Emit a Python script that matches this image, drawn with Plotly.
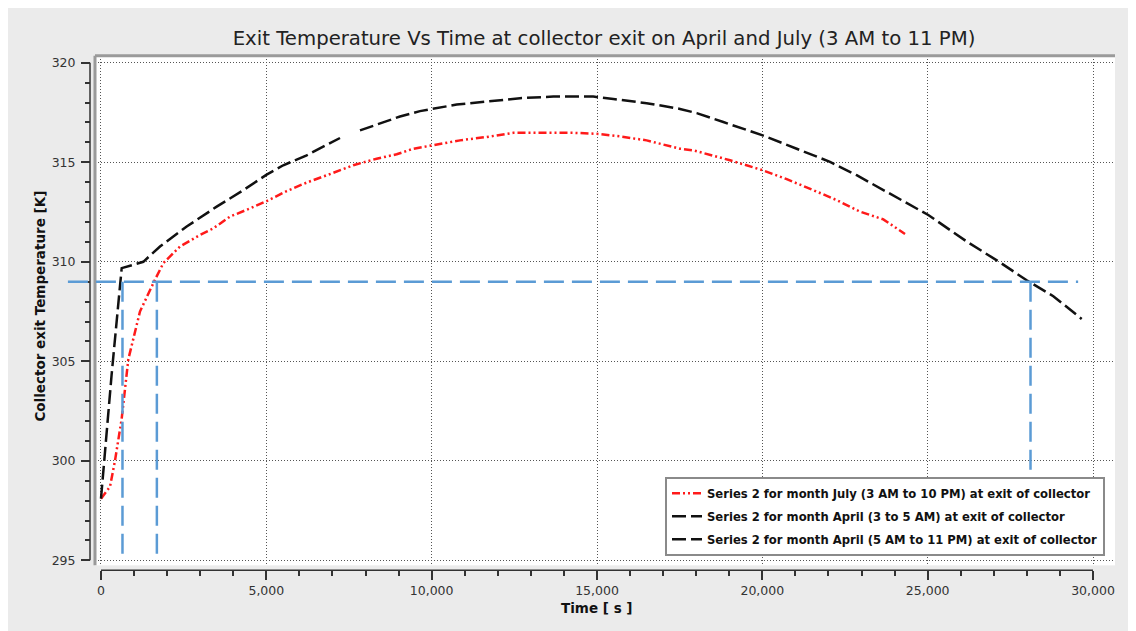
import plotly.graph_objects as go

# ---------------- data ----------------
july_t = [0, 272, 423, 625, 827, 978, 1179, 1633, 1885, 2389, 2994, 3397, 3901, 4506,
          5010, 5615, 6220, 7026, 7631, 8337, 8942, 9445, 10000, 10857, 11664, 12469,
          13276, 14284, 14990, 15695, 16502, 17510, 17913, 19022, 20011, 20737, 21542,
          22249, 22954, 23659, 24315]
july_T = [298.1, 298.7, 300.0, 302.1, 305.1, 306.1, 307.5, 309.1, 309.93, 310.77, 311.35,
          311.68, 312.27, 312.68, 313.05, 313.55, 313.98, 314.47, 314.85, 315.18, 315.4,
          315.68, 315.85, 316.1, 316.27, 316.48, 316.48, 316.48, 316.43, 316.3, 316.1,
          315.68, 315.6, 315.1, 314.6, 314.15, 313.6, 313.1, 312.52, 312.13, 311.4]

april_early_t = [0, 320, 626, 1180, 1280, 1784, 2592, 3499, 4304, 5010, 5513, 6220, 7228]
april_early_T = [298.1, 304.3, 309.68, 309.95, 310.0, 310.77, 311.77, 312.77, 313.6,
                 314.38, 314.85, 315.35, 316.22]

april_day_t = [7833, 8437, 9042, 9647, 10000, 10757, 11664, 12671, 13679, 14888, 15493,
               16502, 17510, 18015, 18820, 20011, 21039, 22046, 22853, 23659, 24466,
               25019, 26180, 27187, 27994, 28800, 29658]
april_day_T = [316.6, 316.97, 317.3, 317.57, 317.68, 317.9, 318.05, 318.22, 318.3, 318.3,
               318.18, 317.97, 317.68, 317.47, 317.02, 316.35, 315.68, 315.02, 314.35,
               313.6, 312.85, 312.35, 311.02, 309.97, 309.07, 308.27, 307.13]

ref_T = 309
ref_t_start = -1000
ref_t_end = 29550
ref_times = [650, 1690, 28110]
y_floor = 295

names = ["Series 2 for month July (3 AM to 10 PM) at exit of collector",
         "Series 2 for month April (3 to 5 AM) at exit of collector",
         "Series 2 for month April (5 AM to 11 PM) at exit of collector"]

title = "Exit Temperature Vs Time at collector exit on April and July (3 AM to 11 PM)"
x_title = "Time [ s ]"
y_title = "Collector exit Temperature [K]"

# ---------------- layout constants (figure pixel coords) ----------------
W, H = 1136, 631
XR = [-181, 30665]
YR = [294.75, 320.35]
XD = [87 / W, 1107 / W]
YD = [1 - 559 / H, 1 - 47 / H]
BLUE = "#5b9bd5"
FONT = "DejaVu Sans"

fig = go.Figure()
fig.add_trace(go.Scatter(x=july_t, y=july_T, mode="lines", name=names[0],
                         line=dict(color="#ff1a1a", width=2.5, dash="8px,3px,2px,3px,2px,3px"),
                         legendgroup="a"))
fig.add_trace(go.Scatter(x=april_early_t, y=april_early_T, mode="lines", name=names[1],
                         line=dict(color="#111111", width=2.5, dash="14px,5px"),
                         legendgroup="b"))
fig.add_trace(go.Scatter(x=april_day_t, y=april_day_T, mode="lines", name=names[2],
                         line=dict(color="#111111", width=2.5, dash="14px,5px"),
                         legendgroup="c"))

shapes = []
# plot frame (top & left)
shapes.append(dict(type="line", xref="paper", yref="paper", x0=XD[0], x1=XD[1], y0=YD[1], y1=YD[1],
                   line=dict(color="#9a9a9a", width=3)))
shapes.append(dict(type="line", xref="paper", yref="paper", x0=XD[0], x1=XD[0], y0=YD[0], y1=YD[1],
                   line=dict(color="#9a9a9a", width=3)))
# axis lines (offset outside plot area)
x_axis_pos = 1 - 564 / H
y_axis_pos = 82 / W
shapes.append(dict(type="line", xref="x", yref="paper", x0=0, x1=30000, y0=x_axis_pos, y1=x_axis_pos,
                   line=dict(color="#333333", width=1.5)))
shapes.append(dict(type="line", xref="paper", yref="y", x0=y_axis_pos, x1=y_axis_pos, y0=295, y1=320,
                   line=dict(color="#333333", width=1.5)))


def xdom(v):
    return (v - XR[0]) / (XR[1] - XR[0])


# blue reference lines
shapes.append(dict(type="line", xref="x domain", yref="y", x0=xdom(ref_t_start), x1=xdom(ref_t_end),
                   y0=ref_T, y1=ref_T, line=dict(color=BLUE, width=2.5, dash="20px,8px")))
for t in ref_times:
    shapes.append(dict(type="line", xref="x", yref="y", x0=t, x1=t, y0=ref_T, y1=y_floor,
                       line=dict(color=BLUE, width=2.5, dash="20px,8px")))

fig.update_layout(
    width=W, height=H,
    margin=dict(l=0, r=0, t=0, b=0),
    paper_bgcolor="#ebebeb",
    plot_bgcolor="white",
    shapes=shapes,
    font=dict(family=FONT, color="#333333"),
    title=dict(text=title, x=596 / W, xref="container", xanchor="center", y=1 - 30 / H,
               yref="container", yanchor="middle",
               font=dict(family=FONT, size=19.7, color="#222222")),
    showlegend=True,
    legend=dict(x=657 / W, y=1 - 470 / H, xanchor="left", yanchor="top",
                bgcolor="white", bordercolor="#8a8a8a", borderwidth=2,
                font=dict(family=FONT, size=11.6, color="#111111", weight="bold"),
                tracegroupgap=4, traceorder="grouped"),
    xaxis=dict(range=XR, domain=XD, anchor="free", position=x_axis_pos,
               showline=False, zeroline=False,
               showgrid=True, gridcolor="#555555", griddash="1px,2px", gridwidth=1,
               tick0=0, dtick=5000, tickformat=",", ticks="outside", ticklen=9,
               tickwidth=1.5, tickcolor="#333333",
               tickfont=dict(family=FONT, size=12.5, color="#333333"),
               minor=dict(dtick=1000, ticks="outside", ticklen=5, tickwidth=1.5,
                          tickcolor="#333333", showgrid=False)),
    yaxis=dict(range=YR, domain=YD, anchor="free", position=y_axis_pos,
               showline=False, zeroline=False,
               showgrid=True, gridcolor="#555555", griddash="1px,2px", gridwidth=1,
               tick0=295, dtick=5, ticks="outside", ticklen=9,
               tickwidth=1.5, tickcolor="#333333", ticklabelstandoff=3,
               tickfont=dict(family=FONT, size=12.5, color="#333333"),
               minor=dict(dtick=1, ticks="outside", ticklen=5, tickwidth=1.5,
                          tickcolor="#333333", showgrid=False)),
    annotations=[
        dict(text=x_title, xref="paper", yref="paper", x=589 / W, y=1 - 602 / H,
             showarrow=False, xanchor="center", yanchor="middle",
             font=dict(family=FONT, size=13.5, color="#111111", weight="bold")),
        dict(text=y_title, xref="paper", yref="paper", x=32 / W, y=1 - 299 / H,
             showarrow=False, xanchor="center", yanchor="middle", textangle=-90,
             font=dict(family=FONT, size=13.5, color="#111111", weight="bold")),
    ],
)

fig.write_html("out.html")
